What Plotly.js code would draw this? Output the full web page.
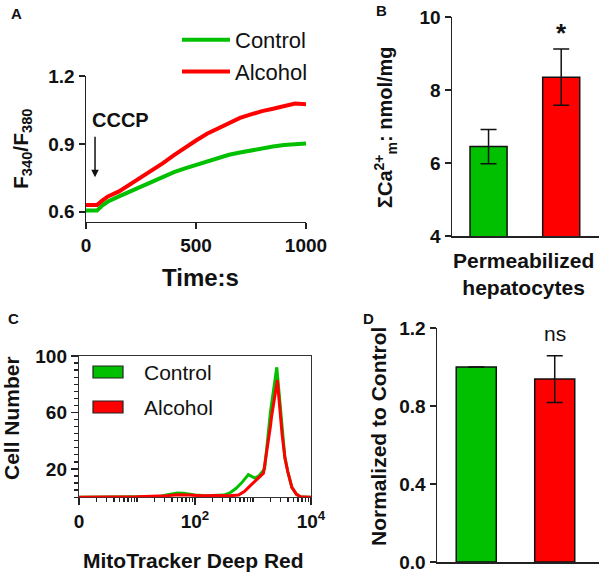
<!DOCTYPE html>
<html><head><meta charset="utf-8">
<script src="https://cdn.plot.ly/plotly-3.0.1.min.js"></script>
<style>body{margin:0;background:#fff}#chart{width:600px;height:575px}</style>
</head><body><div id="chart"></div>
<script>
// Panel A: F340/F380 time course
const timeS = [0,25,50,75,100,150,200,250,300,350,400,450,500,550,600,650,700,750,800,850,900,950,1000];
const ratioControl = [0.605,0.607,0.605,0.628,0.645,0.668,0.69,0.71,0.735,0.755,0.775,0.792,0.808,0.823,0.838,0.852,0.862,0.872,0.88,0.888,0.895,0.9,0.902];
const ratioAlcohol = [0.63,0.628,0.63,0.65,0.668,0.69,0.72,0.755,0.785,0.815,0.85,0.885,0.915,0.945,0.97,0.995,1.015,1.03,1.045,1.055,1.065,1.078,1.075];

// Panel B: total mitochondrial Ca
const groups = ["Control","Alcohol"];
const caMean = [6.45, 8.35];
const caErr = [0.47, 0.77];

// Panel C: MitoTracker histogram
const mfiControl = [1,7.9,10,25,32,40,50,63,79,100,158,251,316,398,501,631,832,1072,1259,1585,1995,2570,3162,3548,3981,4677,5623,6607,7943,10000];
const cntControl = [0,0,0.3,0.5,1.5,2.5,3,2.8,2,1.5,1,1,1.5,3,6,10,16,13.5,15,20,60,92,48,28,18,7,2,0.3,0,0];
const mfiAlcohol = [1,10,32,50,79,126,251,398,562,708,891,1122,1514,1995,2089,2630,3162,3548,3981,4677,5623,6607,7943,10000];
const cntAlcohol = [0,0.3,1,1.8,1.5,1,1.2,1,1.5,4,8,12,17,50,57,83,45,28,18,7,2,0.3,0,0];
const histTickVals = [1,100,10000];
const histTickText = ['0','10<sup>2</sup>','10<sup>4</sup>'];
const histMinorVals = [2,3,4,5,6,7,8,9,10,20,30,40,50,60,70,80,90,200,300,400,500,600,700,800,900,1000,2000,3000,4000,5000,6000,7000,8000,9000];
const countMinorVals = [0,5,10,15,25,30,35,40,45,50,55,65,70,75,80,85,90,95];

// Panel D: normalized MitoTracker
const normMean = [1.0, 0.938];
const normErr = [0, 0.12];

const GREEN = '#00c000', RED = '#ff0000';
const FONT = 'Liberation Sans, Arial, sans-serif';
const tickFont = {family: FONT, size: 19, color: '#111', weight: 700};
const px = v => v/600, py = v => 1 - v/575;

const axBase = {showline:true, linecolor:'#222', linewidth:1.5, ticks:'outside', ticklen:6, tickwidth:1.5,
  tickcolor:'#222', showgrid:false, zeroline:false, tickfont: tickFont, fixedrange:true};

const traces = [
  {x: timeS, y: ratioControl, type:'scatter', mode:'lines', name:'Control', line:{color:GREEN, width:4},
   xaxis:'x', yaxis:'y', legend:'legend', legendgroup:'c'},
  {x: timeS, y: ratioAlcohol, type:'scatter', mode:'lines', name:'Alcohol', line:{color:RED, width:4},
   xaxis:'x', yaxis:'y', legend:'legend', legendgroup:'a'},
  {x: groups, y: caMean, type:'bar', width:0.51, marker:{color:[GREEN, RED], line:{color:'#111', width:1.5}},
   error_y:{type:'data', array:caErr, color:'#111', thickness:1.5, width:8}, xaxis:'x2', yaxis:'y2', showlegend:false},
  {x: mfiControl, y: cntControl, type:'scatter', mode:'lines', line:{color:GREEN, width:3}, xaxis:'x3', yaxis:'y5', showlegend:false},
  {x: mfiAlcohol, y: cntAlcohol, type:'scatter', mode:'lines', line:{color:RED, width:3}, xaxis:'x5', yaxis:'y3', showlegend:false},
  {x: groups, y: normMean, type:'bar', width:0.51, marker:{color:[GREEN, RED], line:{color:'#111', width:1.5}},
   error_y:{type:'data', array:normErr, color:'#111', thickness:1.5, width:8, visible:true}, xaxis:'x4', yaxis:'y4', showlegend:false}
];

const ann = (text, x, y, size, extra) => Object.assign({text, xref:'paper', yref:'paper', x:px(x), y:py(y),
  showarrow:false, font:{family:FONT, size, color:'#111', weight:700}, xanchor:'center', yanchor:'middle'}, extra||{});

const minorAx = {showline:false, showgrid:false, zeroline:false, ticks:'outside', ticklen:4, tickwidth:1.3, tickcolor:'#222',
  showticklabels:false, fixedrange:true};

const layout = {
  width:600, height:575, margin:{l:0,r:0,t:0,b:0}, paper_bgcolor:'#fff', plot_bgcolor:'rgba(0,0,0,0)',
  showlegend:true, bargap:0.5,
  legend:{x:px(177), y:py(19), xanchor:'left', yanchor:'top', font:{family:FONT, size:22, color:'#111'},
    bgcolor:'rgba(0,0,0,0)', tracegroupgap:0, traceorder:'grouped', itemwidth:48},
  xaxis: Object.assign({}, axBase, {domain:[px(86), px(306)], range:[0,1000], tickvals:[0,500,1000], anchor:'y'}),
  yaxis: Object.assign({}, axBase, {domain:[py(221.7), py(76)], range:[0.556,1.2], tickvals:[0.6,0.9,1.2], ticktext:['0.6','0.9','1.2'], anchor:'x'}),
  xaxis2: Object.assign({}, axBase, {domain:[px(452), px(599)], range:[-0.503,1.52], ticks:'', showticklabels:false, anchor:'y2', type:'category'}),
  yaxis2: Object.assign({}, axBase, {domain:[py(236), py(17)], range:[4,10], dtick:2, anchor:'x2'}),
  xaxis3: Object.assign({}, axBase, {domain:[px(79), px(311)], type:'log', range:[0,4], mirror:true, linecolor:'#333', linewidth:1.2,
    ticklen:7, tickvals:histTickVals, ticktext:histTickText, anchor:'y3'}),
  yaxis3: Object.assign({}, axBase, {domain:[py(497.2), py(356)], range:[0,100], ticklen:7, tickvals:[20,60,100], mirror:true, linecolor:'#333', linewidth:1.2, anchor:'x3'}),
  xaxis5: Object.assign({}, minorAx, {overlaying:'x3', anchor:'y3', side:'bottom', type:'log', range:[0,4], tickvals:histMinorVals}),
  yaxis5: Object.assign({}, minorAx, {overlaying:'y3', anchor:'x3', side:'left', range:[0,100], tickvals:countMinorVals}),
  xaxis4: Object.assign({}, axBase, {domain:[px(437), px(599)], range:[-0.5,1.564], ticks:'', showticklabels:false, anchor:'y4', type:'category'}),
  yaxis4: Object.assign({}, axBase, {domain:[py(562), py(328)], range:[0,1.2], tickvals:[0,0.4,0.8,1.2], ticktext:['0.0','0.4','0.8','1.2'], anchor:'x4'}),
  shapes:[
    {type:'rect', xref:'paper', yref:'paper', x0:px(93), x1:px(123), y0:py(378), y1:py(366), fillcolor:GREEN, line:{color:'#222', width:1.2}},
    {type:'rect', xref:'paper', yref:'paper', x0:px(93), x1:px(123), y0:py(413), y1:py(401), fillcolor:RED, line:{color:'#222', width:1.2}}
  ],
  annotations:[
    ann('A', 16, 13, 15), ann('B', 381, 10, 15), ann('C', 13, 318, 15), ann('D', 368, 318, 15),
    ann('F<sub>340</sub>/F<sub>380</sub>', 22, 149, 21, {textangle:-90}),
    ann('Time:s', 200, 278, 24),
    ann('CCCP', 120, 120, 20),
    {text:'', xref:'x', yref:'y', x:41, y:0.753, ax:0, ay:-42, showarrow:true, arrowhead:2, arrowsize:1, arrowwidth:1.5, arrowcolor:'#111'},
    ann('ΣCa<sup>2+</sup><sub>m</sub>: nmol/mg', 385, 127, 20, {textangle:-90}),
    ann('Permeabilized<br>hepatocytes', 523, 274, 21),
    {text:'*', xref:'x2', yref:'y2', x:'Alcohol', y:9.55, showarrow:false, font:{family:FONT, size:26, color:'#111', weight:700}},
    ann('Cell Number', 11, 418, 21, {textangle:-90}),
    ann('MitoTracker Deep Red', 193, 560, 21),
    ann('Control', 142, 372, 21, {xanchor:'left', font:{family:FONT, size:21, color:'#111'}}),
    ann('Alcohol', 142, 407, 21, {xanchor:'left', font:{family:FONT, size:21, color:'#111'}}),
    ann('Normalized to Control', 378, 437, 21, {textangle:-90}),
    {text:'ns', xref:'x4', yref:'y4', x:'Alcohol', y:1.17, showarrow:false, font:{family:FONT, size:21, color:'#111'}}
  ]
};

Plotly.newPlot('chart', traces, layout, {displayModeBar:false, staticPlot:true});
</script></body></html>
